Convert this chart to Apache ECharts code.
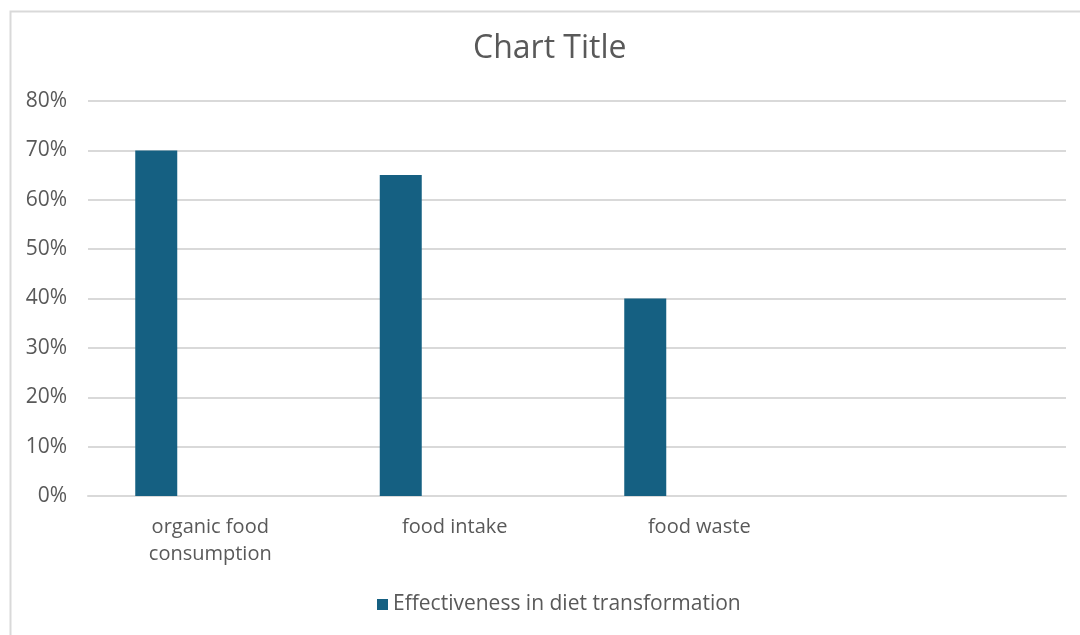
<!DOCTYPE html>
<html>
<head>
<meta charset="utf-8">
<script src="https://cdn.jsdelivr.net/npm/echarts@6/dist/echarts.min.js"></script>
<style>
html,body{margin:0;padding:0;background:#fff;}
#c{width:1080px;height:635px;}
</style>
</head>
<body>
<div id="c"></div>
<script>
var categories = ['organic food\nconsumption', 'food intake', 'food waste', ''];
var seriesName = 'Effectiveness in diet transformation';
var values = [0.70, 0.65, 0.40, null];
var yTicks = { min: 0, max: 0.8, interval: 0.1 };

var chart = echarts.init(document.getElementById('c'));
var font = '"Open Sans", Roboto, sans-serif';
chart.setOption({
  animation: false,
  backgroundColor: '#ffffff',
  graphic: [{
    type: 'rect', left: 8, top: 9,
    shape: { width: 1100, height: 640 },
    style: { fill: 'none', stroke: '#d9d9d9', lineWidth: 2 }
  }],
  title: {
    text: 'Chart Title', left: 468, top: 28,
    textStyle: { fontFamily: font, fontSize: 32, fontWeight: 'normal', color: '#595959' }
  },
  grid: { left: 88, right: 14, top: 101, bottom: 139, containLabel: false },
  legend: {
    data: [seriesName], left: 372, top: 589,
    icon: 'rect', itemWidth: 11, itemHeight: 11, itemGap: 8,
    textStyle: { fontFamily: font, fontSize: 21, color: '#595959' }
  },
  xAxis: {
    type: 'category', data: categories,
    axisLine: { show: true, lineStyle: { color: '#d9d9d9', width: 2 } },
    axisTick: { show: false },
    axisLabel: { fontFamily: font, fontSize: 20, lineHeight: 27, color: '#595959', margin: 18, interval: 0 }
  },
  yAxis: {
    type: 'value', min: yTicks.min, max: yTicks.max, interval: yTicks.interval,
    axisLine: { show: false }, axisTick: { show: false },
    splitLine: { lineStyle: { color: '#d9d9d9', width: 2 } },
    axisLabel: {
      fontFamily: font, fontSize: 21, color: '#595959', margin: 21,
      formatter: function (v) { return Math.round(v * 100) + '%'; }
    }
  },
  series: [
    { name: seriesName, type: 'bar', data: values, barWidth: 42, barGap: 0,
      itemStyle: { color: '#156082' } },
    { name: 'spacer', type: 'bar', data: [null, null, null, null], barWidth: 108, barGap: 0,
      itemStyle: { color: 'rgba(0,0,0,0)' } }
  ]
});
</script>
</body>
</html>
